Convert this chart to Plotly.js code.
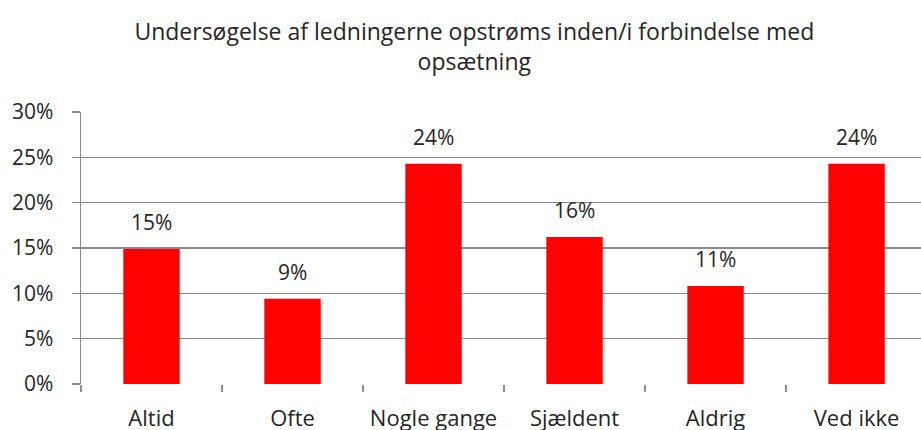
<!DOCTYPE html>
<html><head><meta charset="utf-8">
<script src="https://cdn.plot.ly/plotly-3.0.1.min.js"></script>
<style>html,body{margin:0;padding:0;background:#fff}#c{width:921px;height:430px}</style>
</head><body><div id="c"></div>
<script>
const categories = ["Altid", "Ofte", "Nogle gange", "Sjældent", "Aldrig", "Ved ikke"];
const values = [0.149, 0.094, 0.243, 0.162, 0.108, 0.243];
const valueLabels = ["15%", "9%", "24%", "16%", "11%", "24%"];
const yTicks = [0, 0.05, 0.10, 0.15, 0.20, 0.25, 0.30];
const yTickLabels = ["0%", "5%", "10%", "15%", "20%", "25%", "30%"];
const titleText = "Undersøgelse af ledningerne opstrøms inden/i forbindelse med<br>opsætning";

const FONT = "'Open Sans', Lato, sans-serif";
const TXT = "#262626";

const trace = {
  type: "bar",
  x: categories,
  y: values,
  marker: {color: "#ff0000"},
  hoverinfo: "x+y"
};

const annotations = categories.map((c, i) => ({
  x: c, y: values[i], xref: "x", yref: "y",
  text: valueLabels[i], showarrow: false,
  yanchor: "bottom", yshift: 11,
  font: {family: FONT, size: 21, color: TXT}
}));

const layout = {
  width: 921, height: 430,
  margin: {l: 81, r: 0, t: 112, b: 46},
  paper_bgcolor: "#ffffff", plot_bgcolor: "#ffffff",
  bargap: 0.6,
  showlegend: false,
  title: {
    text: titleText,
    x: 0.515, xref: "container", xanchor: "center",
    y: 0.907, yref: "container", yanchor: "middle",
    font: {family: FONT, size: 23, color: TXT}
  },
  xaxis: {
    type: "category",
    range: [-0.5, 5.457],
    showgrid: false,
    showline: false,
    ticks: "outside", tickson: "boundaries", ticklen: 7, tickcolor: "#8c8c8c", tickwidth: 1.5,
    ticklabelstandoff: 19,
    tickfont: {family: FONT, size: 22, color: TXT},
    fixedrange: true
  },
  yaxis: {
    range: [0, 0.30],
    tickvals: yTicks, ticktext: yTickLabels,
    showgrid: true, gridcolor: "#8c8c8c", gridwidth: 1.5,
    showline: true, linecolor: "#8c8c8c", linewidth: 1.5,
    ticks: "outside", ticklen: 8, tickcolor: "#8c8c8c", tickwidth: 1.5,
    ticklabelstandoff: 14,
    zeroline: false,
    tickfont: {family: FONT, size: 21, color: TXT},
    fixedrange: true
  },
  annotations: annotations
};

Plotly.newPlot("c", [trace], layout, {displayModeBar: false, staticPlot: true});
</script>
</body></html>
